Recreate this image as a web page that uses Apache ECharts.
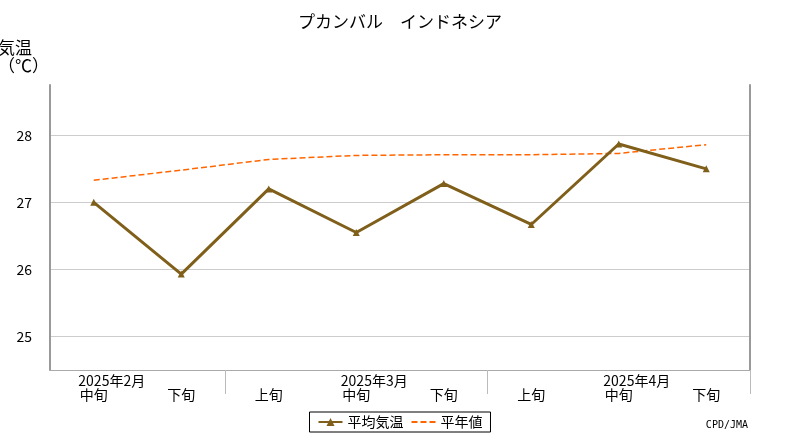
<!DOCTYPE html>
<html><head><meta charset="utf-8">
<script src="https://cdn.jsdelivr.net/npm/echarts@6/dist/echarts.min.js"></script>
<style>body{margin:0}#c{width:800px;height:440px}</style>
</head><body><div id="c"></div>
<script>
// データ
var junLabels = ['中旬','下旬','上旬','中旬','下旬','上旬','中旬','下旬'];
var monthLabels = ['2025年2月','','','2025年3月','','','2025年4月',''];
var avgTemp = [27.0, 25.93, 27.2, 26.55, 27.28, 26.67, 27.87, 27.5];
var normalTemp = [27.33, 27.48, 27.64, 27.7, 27.71, 27.71, 27.73, 27.86];

var font = '"Noto Sans CJK JP", sans-serif';
var myChart = echarts.init(document.getElementById('c'));

var option = {
    animation: false,
    textStyle: {fontFamily: font},
    title: {text: 'プカンバル　インドネシア', left: 'center', top: 8,
        textStyle: {fontSize: 17, fontWeight: 'normal', color: '#000', fontFamily: font}},
    grid: {left: 50, right: 50, top: 85, bottom: 70, outerBoundsMode: 'none'},
    legend: {
        bottom: 8, left: 'center', borderColor: '#000', borderWidth: 1, padding: [3, 8],
        itemWidth: 24, itemHeight: 10,
        textStyle: {fontSize: 14, color: '#000'},
        data: [{name: '平均気温'}, {name: '平年値', icon: 'path://M0,4h6v2h-6zM9,4h6v2h-6zM18,4h6v2h-6z'}]
    },
    graphic: [{type: 'text', right: 52, bottom: 10,
        style: {text: 'CPD/JMA', fontSize: 10, fill: '#000', fontFamily: 'DejaVu Sans Mono'}}],
    xAxis: [{
        type: 'category', data: junLabels, position: 'bottom',
        axisLine: {lineStyle: {color: '#aaa'}},
        axisTick: {show: false},
        axisLabel: {color: '#000', fontSize: 14, margin: 18}
    }, {
        type: 'category', data: monthLabels, position: 'bottom',
        axisLine: {show: false},
        axisTick: {show: true, length: 24, lineStyle: {color: '#bbb'},
            interval: function (i) { return i === 2 || i === 5; }},
        axisLabel: {color: '#000', fontSize: 14, margin: 4, interval: 0, padding: [0, 0, 0, 36]}
    }],
    yAxis: [{
        type: 'value', min: 24.5, max: 28.75, interval: 0.25,
        name: '気温\n（℃）', nameLocation: 'end', nameGap: 10,
        nameTextStyle: {color: '#000', fontSize: 17, align: 'left', padding: [0, 0, 0, -52], lineHeight: 18},
        axisLine: {show: true, lineStyle: {color: '#999', width: 2}},
        axisTick: {show: false},
        axisLabel: {color: '#000', fontSize: 14, margin: 18,
            formatter: function (v) { return (v % 1 === 0 && v >= 25 && v <= 28) ? v : ''; }},
        splitLine: {show: true, lineStyle: {color: ['transparent', 'transparent', '#ccc', 'transparent']}}
    }, {
        type: 'value', min: 24.5, max: 28.75, position: 'right',
        axisLine: {show: true, lineStyle: {color: '#999', width: 2}},
        axisTick: {show: false}, axisLabel: {show: false}, splitLine: {show: false}
    }],
    series: [{
        name: '平年値', type: 'line', data: normalTemp, symbol: 'none',
        lineStyle: {color: '#ff6600', type: 'dashed', width: 1.5},
        itemStyle: {color: '#ff6600'}
    }, {
        name: '平均気温', type: 'line', data: avgTemp, symbol: 'triangle', symbolSize: 7,
        lineStyle: {color: '#7f5f1a', width: 3},
        itemStyle: {color: '#7f5f1a'}
    }]
};
myChart.setOption(option);
</script>
</body></html>
